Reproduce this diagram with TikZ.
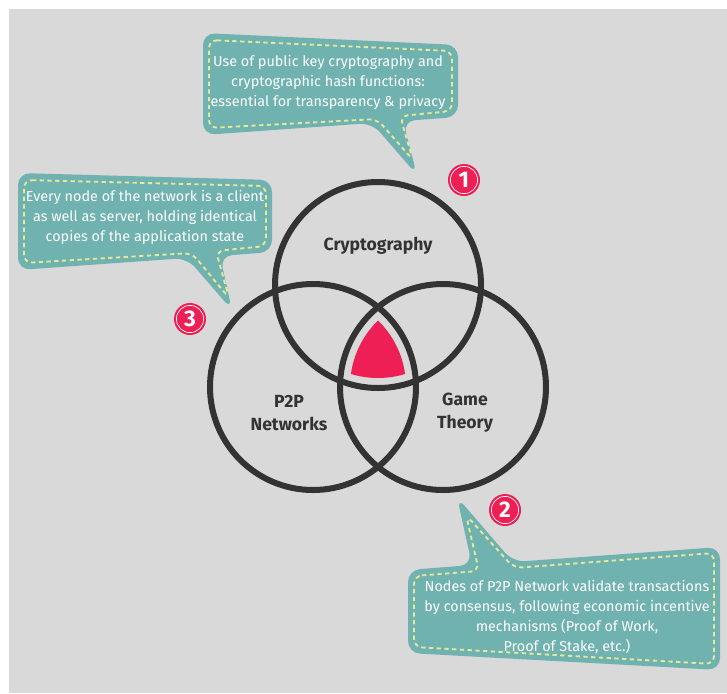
\documentclass[tikz,border=0pt]{standalone}
\usepackage{fontspec}
\setmainfont{Fira Sans}
\usetikzlibrary{positioning}

\definecolor{bggray}{HTML}{D9D9D9}
\definecolor{calloutteal}{HTML}{6FB2AF}
\definecolor{stitchyellow}{HTML}{E6E89C}
\definecolor{ringdark}{HTML}{333333}
\definecolor{badgered}{HTML}{EE1F55}

\begin{document}
\begin{tikzpicture}[x=0.75pt, y=-0.75pt,
    ring/.style={draw=ringdark, line width=4.5pt},
    bubble/.style={fill=calloutteal, rounded corners=9pt},
    stitch/.style={draw=stitchyellow, line width=1.4pt, dash pattern=on 3.2pt off 2.6pt, rounded corners=6pt},
    bubbletext/.style={text=white, align=center, font=\fontsize{10.8}{15}\selectfont},
    ringlabel/.style={text=ringdark, align=center, font=\fontsize{13.2}{17.5}\selectfont\bfseries},
    badge/.style={circle, fill=badgered, minimum size=24pt, inner sep=0pt, text=white,
                  font=\fontsize{17}{17}\selectfont\bfseries},
    badgering/.style={draw=white, line width=0.5pt}]
    \useasboundingbox (0,0) rectangle (727,693);

    % Background
    \fill[bggray] (9,9) rectangle (727,693);

    % Callout 1 (top)
    \fill[bubble] (203,33) -- (458,45) -- (458,117) -- (403,121) -- (417,175) -- (372,123) -- (203,135) -- cycle;
    \draw[stitch] (209,40) -- (452,51) -- (452,111) -- (400,116) -- (413,160) -- (377,119) -- (209,128) -- cycle;
    \node[bubbletext] (crypto text) at (328,82)
        {Use of public key cryptography and\\cryptographic hash functions:\\essential for transparency \& privacy};

    % Callout 3 (left)
    \fill[bubble] (18,173) -- (272,180) -- (272,252) -- (220,256) -- (232,310) -- (187,258) -- (18,270) -- cycle;
    \draw[stitch] (24,180) -- (266,186) -- (266,246) -- (216,251) -- (229,298) -- (192,253) -- (24,263) -- cycle;
    \node[bubbletext] (p2p text) at (145,217)
        {Every node of the network is a client\\as well as server, holding identical\\copies of the application state};

    % Callout 2 (bottom right)
    \fill[bubble] (408,570) -- (472,565) -- (457,497) -- (513,562) -- (720,547) -- (720,670) -- (408,653) -- cycle;
    \draw[stitch] (414,576) -- (479,571) -- (466,515) -- (514,568) -- (714,553) -- (714,664) -- (414,647) -- cycle;
    \node[bubbletext] (game text) at (567,617)
        {Nodes of P2P Network validate transactions\\by consensus, following economic incentive\\mechanisms (Proof of Work,\\Proof of Stake, etc.)};

    % Circle centres
    \coordinate (top) at (378,285);
    \coordinate (left) at (313,387);
    \coordinate (right) at (443,387);

    % Common part
    \begin{scope}
        \clip (top) circle[radius=69.75pt];
        \clip (left) circle[radius=69.75pt];
        \fill[badgered] (right) circle[radius=69.75pt];
    \end{scope}

    % Circles
    \draw[ring] (top) circle[radius=77.25pt];
    \draw[ring] (left) circle[radius=77.25pt];
    \draw[ring] (right) circle[radius=77.25pt];

    % Labels
    \node[ringlabel] (crypto) at (378,246) {Cryptography};
    \node[ringlabel] (p2p) at (289,413) {P2P\\Networks};
    \node[ringlabel] (game) at (465,413) {Game\\Theory};

    % Badges
    \node[badge] (one) at (464,180) {1};
    \node[badge] (two) at (505,510) {2};
    \node[badge] (three) at (190,319) {3};
    \foreach \b in {one,two,three}
        \draw[badgering] (\b.center) circle[radius=10.2pt];
\end{tikzpicture}
\end{document}
